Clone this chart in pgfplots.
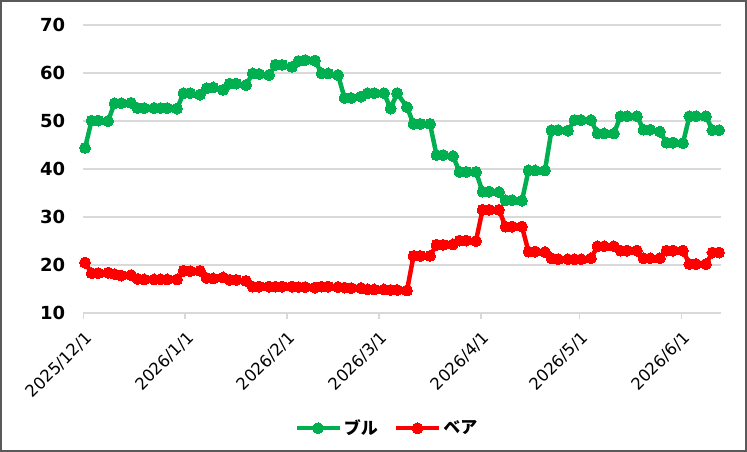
\documentclass[border=0pt]{standalone}
\usepackage{pgfplots}
\pgfplotsset{compat=1.18}
\usepackage{fontspec}
\setmainfont{DejaVu Sans}
\newfontfamily\cjk{Noto Sans CJK JP}
\definecolor{bullgreen}{RGB}{0,176,80}
\definecolor{bearred}{RGB}{255,0,0}
\definecolor{gridgray}{RGB}{217,217,217}
\definecolor{framegray}{RGB}{89,89,89}

\pgfplotstableread{
d v
0.5 44.4
2.5 50.1
4.5 50.1
7.5 50.0
9.5 53.7
11.5 53.7
14.5 53.8
16.5 52.7
18.5 52.7
21.5 52.7
23.5 52.7
25.5 52.7
28.5 52.6
30.5 55.8
32.5 55.8
35.5 55.5
37.5 56.8
39.5 57.0
42.5 56.5
44.5 57.8
46.5 57.8
49.5 57.5
51.5 59.9
53.5 59.8
56.5 59.6
58.5 61.7
60.5 61.7
63.5 61.3
65.5 62.5
67.5 62.7
70.5 62.6
72.5 59.9
74.5 59.9
77.5 59.6
79.5 54.8
81.5 54.8
84.5 55.1
86.5 55.8
88.5 55.8
91.5 55.8
93.5 52.6
95.5 55.8
98.5 52.9
100.5 49.4
102.5 49.4
105.5 49.4
107.5 42.9
109.5 42.9
112.5 42.7
114.5 39.4
116.5 39.4
119.5 39.4
121.5 35.3
123.5 35.3
126.5 35.2
128.5 33.5
130.5 33.5
133.5 33.4
135.5 39.7
137.5 39.7
140.5 39.7
142.5 48.1
144.5 48.1
147.5 48.0
149.5 50.2
151.5 50.2
154.5 50.2
156.5 47.4
158.5 47.4
161.5 47.4
163.5 51.0
165.5 51.0
168.5 51.0
170.5 48.2
172.5 48.2
175.5 47.8
177.5 45.5
179.5 45.5
182.5 45.4
184.5 51.0
186.5 51.0
189.5 51.0
191.5 48.1
193.5 48.1
}\bull

\pgfplotstableread{
d v
0.5 20.5
2.5 18.3
4.5 18.3
7.5 18.4
9.5 18.1
11.5 17.8
14.5 17.9
16.5 17.1
18.5 17.0
21.5 17.0
23.5 17.0
25.5 17.0
28.5 17.0
30.5 18.8
32.5 18.7
35.5 18.8
37.5 17.3
39.5 17.2
42.5 17.4
44.5 16.9
46.5 16.9
49.5 16.7
51.5 15.5
53.5 15.5
56.5 15.5
58.5 15.5
60.5 15.5
63.5 15.5
65.5 15.4
67.5 15.4
70.5 15.3
72.5 15.5
74.5 15.5
77.5 15.4
79.5 15.3
81.5 15.2
84.5 15.2
86.5 14.9
88.5 14.9
91.5 14.9
93.5 14.8
95.5 14.8
98.5 14.7
100.5 21.9
102.5 21.9
105.5 21.9
107.5 24.2
109.5 24.2
112.5 24.3
114.5 25.1
116.5 25.1
119.5 25.0
121.5 31.5
123.5 31.5
126.5 31.5
128.5 28.0
130.5 28.0
133.5 28.0
135.5 22.8
137.5 22.8
140.5 22.7
142.5 21.4
144.5 21.2
147.5 21.2
149.5 21.2
151.5 21.2
154.5 21.4
156.5 23.9
158.5 23.9
161.5 23.9
163.5 23.0
165.5 23.0
168.5 23.0
170.5 21.4
172.5 21.4
175.5 21.4
177.5 23.0
179.5 23.0
182.5 23.0
184.5 20.2
186.5 20.2
189.5 20.2
191.5 22.6
193.5 22.6
}\bear

\begin{document}
\begin{tikzpicture}
\useasboundingbox (-83.4bp,-139bp) rectangle (663.6bp,313bp);
\fill[white] (-83.4bp,-139bp) rectangle (663.6bp,313bp);
\begin{axis}[
  at={(0,0)}, anchor=south west,
  scale only axis, width=637.3bp, height=288bp,
  xmin=0, xmax=194, ymin=10, ymax=70,
  clip=false,
  axis line style={draw=none},
  ymajorgrids,
  major grid style={color=gridgray, line width=1.5bp},
  ytick={10,20,30,40,50,60,70},
  xtick={0,31,62,90,121,151,182},
  xticklabels={2025/12/1,2026/1/1,2026/2/1,2026/3/1,2026/4/1,2026/5/1,2026/6/1},
  tick align=outside,
  xtick pos=bottom,
  major tick length=6bp,
  xtick style={color=gridgray, line width=1.5bp},
  ytick style={draw=none},
  /pgf/number format/assume math mode=true,
  yticklabel style={font=\bfseries\fontsize{18bp}{20bp}\selectfont, inner sep=0pt, anchor=east, xshift=-12bp},
  xticklabel style={font=\fontsize{16.5bp}{19bp}\selectfont, inner sep=0pt, xshift=5.6bp, yshift=-16bp, rotate=45, anchor=east},
  legend style={at={(0.476,-0.40)}, anchor=center, draw=none, fill=none,
    font=\fontsize{17bp}{20bp}\cjk\bfseries,
    /tikz/every even column/.append style={column sep=14bp},
    nodes={inner sep=2bp}},
  legend columns=-1,
  legend image code/.code={\draw[mark repeat=2, mark phase=2, #1] plot coordinates {(0bp,0bp) (21.5bp,0bp) (43bp,0bp)};},
]
\addplot[color=bullgreen, line width=4.5bp, mark=*, mark size=5.5bp, mark options={solid, line width=0pt}] table[x=d, y=v] {\bull};
\addlegendentry{ブル}
\addplot[color=bearred, line width=4.5bp, mark=*, mark size=5.5bp, mark options={solid, line width=0pt}] table[x=d, y=v] {\bear};
\addlegendentry{ベア}
\end{axis}
\draw[line width=2bp, color=framegray] (-82.4bp,-138bp) rectangle (662.6bp,312bp);
\end{tikzpicture}
\end{document}
